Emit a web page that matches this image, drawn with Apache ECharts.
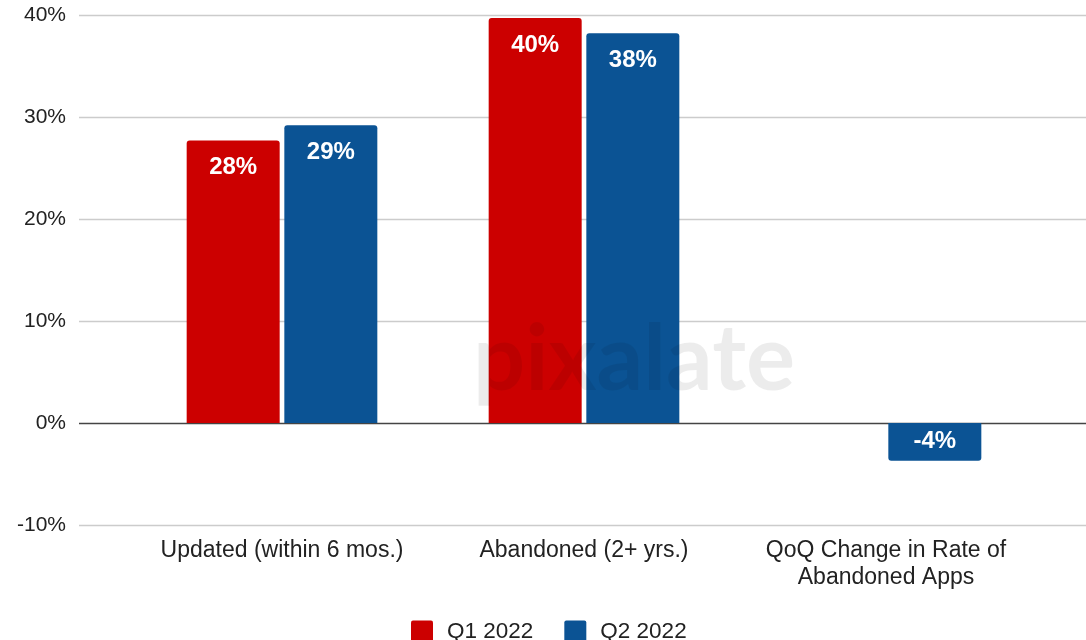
<!DOCTYPE html>
<html>
<head>
<meta charset="utf-8">
<script src="https://cdn.jsdelivr.net/npm/echarts@6/dist/echarts.min.js"></script>
<style>
  html, body { margin: 0; padding: 0; background: #fff; }
  #chart { width: 1086px; height: 640px; }
</style>
</head>
<body>
<div id="chart"></div>
<script>
// App update status, Q1 vs Q2 2022 (percent of apps)
const categories = ['Updated (within 6 mos.)', 'Abandoned (2+ yrs.)', 'QoQ Change in Rate of\nAbandoned Apps'];
const seriesNames = ['Q1 2022', 'Q2 2022'];
const q1Values = [27.7, 39.7, null];
const q2Values = [29.2, 38.2, -3.7];
const yTicks = [-10, 0, 10, 20, 30, 40];

const RED = '#cc0000';
const BLUE = '#0b5394';
const FONT = '"Liberation Sans", Arial, sans-serif';
// small square with slightly rounded corners for the legend swatches
const SWATCH = 'path://M2,0H20A2,2 0 0 1 22,2V20A2,2 0 0 1 20,22H2A2,2 0 0 1 0,20V2A2,2 0 0 1 2,0Z';

const chart = echarts.init(document.getElementById('chart'), null, { renderer: 'canvas' });

function barData(values) {
  return values.map(v => {
    if (v == null) return null;
    if (v < 0) {
      return {
        value: v,
        itemStyle: { borderRadius: [0, 0, 3, 3] },
        label: { position: 'inside' }
      };
    }
    return v;
  });
}

const valueLabel = {
  show: true,
  position: 'insideTop',
  distance: 15,
  color: '#fff',
  fontFamily: FONT,
  fontWeight: 'bold',
  fontSize: 24,
  formatter: p => Math.round(p.value) + '%'
};

chart.setOption({
  animation: false,
  backgroundColor: '#fff',
  grid: [
    { left: 131, right: 49, top: 15, bottom: 115 },
    { left: 79, right: 0, top: 15, bottom: 115 }
  ],
  xAxis: [
    {
      type: 'category',
      gridIndex: 0,
      data: categories,
      axisLine: { show: false },
      axisTick: { show: false },
      axisLabel: {
        color: '#222',
        fontFamily: FONT,
        fontSize: 23,
        lineHeight: 27,
        margin: 12,
        interval: 0
      }
    },
    { type: 'value', gridIndex: 1, show: false, min: 0, max: 1 }
  ],
  yAxis: [
    {
      type: 'value',
      gridIndex: 0,
      min: yTicks[0],
      max: yTicks[yTicks.length - 1],
      interval: 10,
      show: false,
      splitLine: { show: false }
    },
    {
      type: 'value',
      gridIndex: 1,
      min: yTicks[0],
      max: yTicks[yTicks.length - 1],
      interval: 10,
      axisLine: { show: false },
      axisTick: { show: false },
      axisLabel: {
        color: '#222',
        fontFamily: FONT,
        fontSize: 21,
        margin: 13,
        formatter: v => v + '%'
      },
      splitLine: {
        lineStyle: {
          color: yTicks.map(t => (t === 0 ? '#444' : '#cccccc')),
          width: 1.3
        }
      }
    }
  ],
  legend: {
    data: seriesNames,
    left: 406,
    top: 615,
    itemWidth: 22,
    itemHeight: 22,
    itemGap: 31,
    icon: SWATCH,
    textStyle: {
      color: '#222',
      fontFamily: FONT,
      fontSize: 22.5,
      padding: [0, 0, 0, 9]
    }
  },
  series: [
    {
      name: seriesNames[0],
      type: 'bar',
      xAxisIndex: 0,
      yAxisIndex: 0,
      data: barData(q1Values),
      barWidth: 93,
      barGap: '5%',
      itemStyle: { color: RED, borderRadius: [3, 3, 0, 0] },
      label: valueLabel
    },
    {
      name: seriesNames[1],
      type: 'bar',
      xAxisIndex: 0,
      yAxisIndex: 0,
      data: barData(q2Values),
      barWidth: 93,
      barGap: '5%',
      itemStyle: { color: BLUE, borderRadius: [3, 3, 0, 0] },
      label: valueLabel
    }
  ],
  graphic: [
    {
      type: 'text',
      z: 100,
      silent: true,
      style: {
        text: 'pixalate',
        x: 634,
        y: 360,
        textAlign: 'center',
        textVerticalAlign: 'middle',
        font: 'bold 92px Lato, "Noto Sans", sans-serif',
        fill: 'rgba(0,0,0,0.075)'
      }
    }
  ]
});
</script>
</body>
</html>
